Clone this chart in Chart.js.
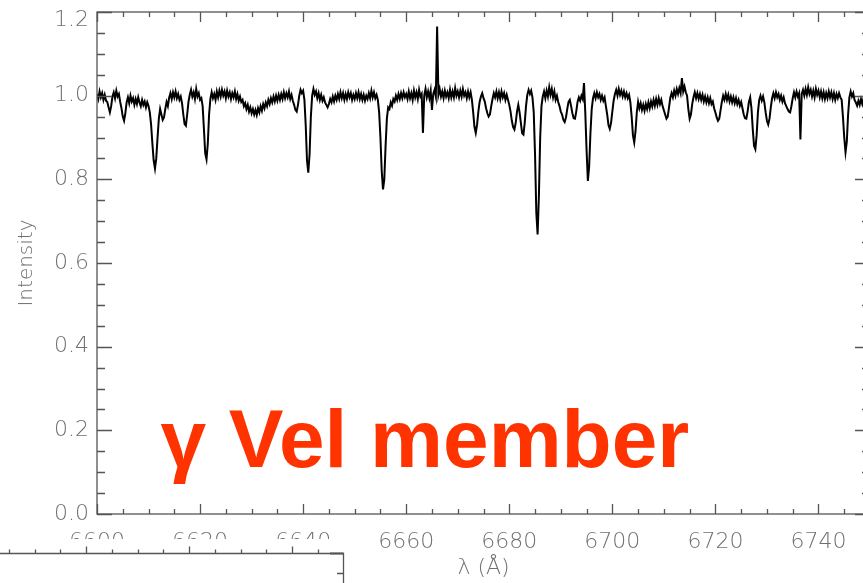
<!DOCTYPE html>
<html>
<head>
<meta charset="utf-8">
<script src="https://cdn.jsdelivr.net/npm/chart.js@4/dist/chart.umd.min.js"></script>
<style>
  html, body { margin: 0; padding: 0; background: #fff; }
  #wrap { position: relative; width: 863px; height: 583px; overflow: hidden; }
  #c { position: absolute; left: 0; top: 0; }
</style>
</head>
<body>
<div id="wrap"><canvas id="c" width="875" height="583"></canvas></div>
<script>
// Normalised spectrum sampled on a regular wavelength grid (Å)
const lambdaStart = 6600;
const lambdaStep = 0.25;
const intensity = [
  // 6600–6605
  1.004,0.992,1.010,0.996,1.006,0.990,1.002,0.988,0.985,0.972,0.960,0.975,0.998,1.008,0.994,1.012,0.998,1.004,0.985,0.970,
  // 6605–6610
  0.950,0.940,0.958,0.984,0.996,0.982,1.000,0.986,0.994,0.978,0.992,0.980,0.996,0.984,0.975,0.990,0.978,0.986,0.972,0.984,
  // 6610–6615
  0.975,0.960,0.930,0.885,0.845,0.826,0.850,0.900,0.945,0.968,0.955,0.942,0.948,0.968,0.985,0.975,0.995,1.006,0.992,1.008,
  // 6615–6620
  0.996,1.010,0.994,1.004,0.990,0.998,0.982,0.955,0.932,0.928,0.955,0.985,1.002,1.014,0.998,1.008,0.992,1.016,0.998,1.006,
  // 6620–6625
  0.990,0.994,0.975,0.920,0.862,0.848,0.885,0.955,0.992,1.008,0.994,1.004,0.990,1.010,0.996,1.012,0.998,1.014,1.000,1.010,
  // 6625–6630
  0.994,1.012,0.998,1.008,0.992,1.006,0.996,1.010,0.992,1.004,0.988,0.998,0.985,0.990,0.975,0.982,0.968,0.978,0.962,0.972,
  // 6630–6635
  0.958,0.968,0.955,0.966,0.954,0.970,0.960,0.975,0.964,0.980,0.970,0.984,0.975,0.990,0.980,0.994,0.984,0.998,0.986,1.000,
  // 6635–6640
  0.988,1.002,0.990,1.004,0.992,1.008,0.994,1.006,0.996,1.010,0.992,1.002,0.988,0.978,0.966,0.962,0.978,1.000,1.014,1.006,
  // 6640–6645
  1.012,0.990,0.930,0.845,0.816,0.860,0.950,1.000,1.016,1.002,1.010,0.994,1.006,0.990,1.002,0.988,0.996,0.984,0.978,0.972,
  // 6645–6650
  0.980,0.992,0.984,0.998,0.986,1.000,0.990,1.004,0.992,1.008,0.994,1.006,0.990,1.004,0.992,1.008,0.996,1.006,0.990,1.002,
  // 6650–6655
  0.992,1.006,0.994,1.008,0.992,1.004,0.990,1.002,0.988,1.000,0.992,1.006,0.994,1.012,0.996,1.008,0.994,1.002,0.990,0.960,
  // 6655–6660
  0.900,0.820,0.776,0.800,0.880,0.945,0.972,0.968,0.984,0.976,0.992,0.986,1.000,0.990,1.004,0.992,1.006,0.994,1.008,0.996,
  // 6660–6665
  1.004,0.992,1.010,0.994,1.006,0.990,1.012,0.996,1.008,0.992,1.014,0.998,1.004,0.911,1.000,1.016,0.996,1.010,0.994,1.012,
  // 6665–6670
  0.966,1.004,1.014,0.998,1.165,1.002,1.016,0.998,1.010,0.994,1.012,0.998,1.008,0.994,1.014,0.996,1.010,0.996,1.018,1.000,
  // 6670–6675
  1.010,0.996,1.012,0.998,1.016,1.000,1.008,0.994,1.010,0.996,1.008,0.990,0.960,0.925,0.911,0.930,0.962,0.985,0.998,1.006,
  // 6675–6680
  0.994,0.986,0.970,0.958,0.950,0.955,0.975,0.992,1.006,0.996,1.010,0.994,1.008,0.992,1.010,0.996,1.006,0.990,1.002,0.990,
  // 6680–6685
  0.978,0.962,0.940,0.925,0.919,0.935,0.962,0.978,0.960,0.935,0.910,0.907,0.935,0.975,1.002,1.014,1.004,1.012,0.996,0.960,
  // 6685–6690
  0.860,0.720,0.668,0.760,0.900,0.975,0.998,1.010,0.994,1.012,0.998,1.020,1.002,1.016,0.996,1.010,0.990,1.000,0.985,0.975,
  // 6690–6695
  0.962,0.955,0.942,0.937,0.948,0.968,0.985,0.990,0.975,0.958,0.946,0.945,0.962,0.985,0.996,0.988,1.000,0.992,1.030,0.960,
  // 6695–6700
  0.870,0.796,0.830,0.910,0.968,0.994,1.006,0.994,1.008,0.996,1.004,0.990,1.000,0.988,0.996,0.975,0.955,0.930,0.921,0.935,
  // 6700–6705
  0.962,0.988,1.004,1.014,1.000,1.016,1.002,1.012,0.998,1.010,0.996,1.006,0.994,1.002,0.984,0.950,0.905,0.888,0.915,0.960,
  // 6705–6710
  0.985,0.970,0.982,0.966,0.978,0.964,0.980,0.968,0.984,0.970,0.986,0.974,0.990,0.976,0.992,0.978,0.994,0.980,0.990,0.975,
  // 6710–6715
  0.965,0.955,0.945,0.950,0.972,0.995,1.006,0.996,1.012,1.000,1.016,1.004,1.018,1.006,1.042,1.010,1.022,1.008,1.000,0.968,
  // 6715–6720
  0.945,0.955,0.980,0.996,1.008,0.994,1.006,0.992,1.004,0.990,1.002,0.986,0.998,0.984,0.996,0.982,0.994,0.980,0.986,0.970,
  // 6720–6725
  0.960,0.948,0.940,0.945,0.965,0.985,1.000,0.990,1.004,0.990,1.002,0.986,0.998,0.984,0.996,0.982,0.994,0.980,0.990,0.976,
  // 6725–6730
  0.985,0.970,0.955,0.946,0.945,0.962,0.985,0.996,0.970,0.920,0.880,0.872,0.905,0.960,0.990,1.000,0.988,0.998,0.984,0.960,
  // 6730–6735
  0.940,0.931,0.945,0.972,0.994,1.006,0.994,1.008,0.996,1.004,0.990,1.000,0.986,0.996,0.982,0.975,0.968,0.962,0.960,0.975,
  // 6735–6740
  0.994,1.008,0.996,1.010,0.998,1.006,0.895,1.004,1.014,1.000,1.016,1.002,1.020,1.004,1.014,0.998,1.012,0.996,1.016,1.002,
  // 6740–6745
  1.012,0.996,1.010,0.994,1.008,0.992,1.006,0.994,1.010,0.996,1.008,0.992,1.006,0.990,1.004,0.994,1.006,0.996,0.990,0.950,
  // 6745–6750
  0.900,0.865,0.890,0.955,0.996,1.010,0.998,1.006,0.990,0.984,0.976,0.988,0.978,0.992,0.980,0.994,0.982,0.996,0.984,0.990,
  0.980
];

const xRange = [6600, 6750];
const yRange = [0, 1.2];
const xTickValues = [6600, 6620, 6640, 6660, 6680, 6700, 6720, 6740];
const yTickValues = [0.0, 0.2, 0.4, 0.6, 0.8, 1.0, 1.2];
const xMinorStep = 5;      // Å between minor ticks
const yMinorCount = 24;    // minor ticks every 0.05 over 0–1.2
const xTitle = 'λ (Å)';
const yTitle = 'Intensity';
const tagText = 'γ Vel member';
const tagAt = { x: 6612.3, y: 0.113 };

const axisColor = '#555';
const labelColor = '#707070';
const labelFamily = '"DejaVu Sans", "Liberation Sans", sans-serif';
const tagFamily = '"Liberation Sans", Arial, Helvetica, sans-serif';

const points = intensity.map((v, i) => ({ x: lambdaStart + i * lambdaStep, y: v }));

// Closed IDL-style frame with inward major/minor ticks on all four sides
const framePlugin = {
  id: 'frame',
  afterDatasetsDraw(chart) {
    const { ctx, chartArea: a, scales: { x, y } } = chart;
    ctx.save();
    ctx.strokeStyle = axisColor;
    ctx.lineWidth = 1.3;
    ctx.strokeRect(a.left, a.top, a.right - a.left, a.bottom - a.top);
    ctx.beginPath();
    const nx = Math.round((xRange[1] - xRange[0]) / xMinorStep);
    for (let i = 0; i <= nx; i++) {
      const v = xRange[0] + i * xMinorStep;
      const px = Math.round(x.getPixelForValue(v)) + 0.5;
      const len = (i % 4 === 0) ? 10 : 5;
      ctx.moveTo(px, a.bottom); ctx.lineTo(px, a.bottom - len);
      ctx.moveTo(px, a.top); ctx.lineTo(px, a.top + len);
    }
    for (let i = 0; i <= yMinorCount; i++) {
      const v = yRange[0] + i * (yRange[1] - yRange[0]) / yMinorCount;
      const py = Math.round(y.getPixelForValue(v)) + 0.5;
      const len = (i % 4 === 0) ? 15 : 8;
      ctx.moveTo(a.left, py); ctx.lineTo(a.left + len, py);
      ctx.moveTo(a.right, py); ctx.lineTo(a.right - len, py);
    }
    ctx.stroke();

    // group tag
    ctx.fillStyle = '#ff3300';
    ctx.font = 'bold 82px ' + tagFamily;
    ctx.textBaseline = 'alphabetic';
    ctx.textAlign = 'left';
    ctx.fillText(tagText, x.getPixelForValue(tagAt.x), y.getPixelForValue(tagAt.y));
    ctx.restore();
  },
  afterDraw(chart) {
    // frame corner of the neighbouring panel that sits below this one
    const { ctx } = chart;
    ctx.save();
    ctx.fillStyle = '#fff';
    ctx.fillRect(0, 539, 345, 44);
    ctx.strokeStyle = axisColor;
    ctx.lineWidth = 1.3;
    ctx.beginPath();
    ctx.moveTo(0, 553.5); ctx.lineTo(343.5, 553.5); ctx.lineTo(343.5, 583);
    for (let k = -3; k <= 9; k++) {
      const px = Math.round(86 + k * 25.75) + 0.5;
      const len = (k % 4 === 0) ? 7 : 4;
      ctx.moveTo(px, 553.5); ctx.lineTo(px, 553.5 - len);
    }
    ctx.moveTo(343.5, 573.5); ctx.lineTo(337, 573.5);
    ctx.stroke();
    ctx.lineWidth = 2;
    ctx.beginPath();
    ctx.moveTo(330, 553.5); ctx.lineTo(343.5, 553.5);
    ctx.stroke();
    ctx.restore();
  }
};

const zeroPad = s => { s.paddingTop = 0; s.paddingBottom = 0; s.paddingLeft = 0; s.paddingRight = 0; };
const isTopTick = v => Math.abs(v - yRange[1]) < 1e-9;

new Chart(document.getElementById('c'), {
  type: 'line',
  data: {
    datasets: [{
      data: points,
      borderColor: '#000',
      borderWidth: 2,
      pointRadius: 0,
      tension: 0,
      fill: false
    }]
  },
  options: {
    responsive: false,
    animation: false,
    events: [],
    layout: { padding: { top: 12, right: 5, left: 0, bottom: 0 } },
    plugins: { legend: { display: false }, tooltip: { enabled: false } },
    scales: {
      x: {
        type: 'linear',
        min: xRange[0],
        max: xRange[1],
        afterBuildTicks: s => { s.ticks = xTickValues.map(v => ({ value: v })); },
        afterFit: s => { s.height = 69; zeroPad(s); },
        grid: { display: false, drawTicks: false },
        border: { display: false },
        ticks: {
          autoSkip: false, maxRotation: 0, padding: 15,
          color: labelColor, font: { family: labelFamily, size: 22, weight: 200 },
          callback: v => String(v)
        },
        title: {
          display: true, text: xTitle, color: labelColor,
          font: { family: labelFamily, size: 22, weight: 200 },
          padding: { top: 0, bottom: 2 }
        }
      },
      y: {
        min: yRange[0],
        max: yRange[1],
        afterBuildTicks: s => { s.ticks = yTickValues.map(v => ({ value: v })); },
        afterFit: s => { s.width = 97; zeroPad(s); },
        grid: { display: false, drawTicks: false },
        border: { display: false },
        ticks: {
          padding: 8, color: labelColor,
          // the top label sits a little below the frame edge
          font: c => ({
            family: labelFamily, size: 22, weight: 200,
            lineHeight: (c.tick && isTopTick(c.tick.value)) ? '16px' : 1.2
          }),
          callback: v => isTopTick(v) ? ['', Number(v).toFixed(1)] : Number(v).toFixed(1)
        },
        title: {
          display: true, text: yTitle, color: labelColor,
          font: { family: labelFamily, size: 20, weight: 200 },
          padding: { top: 15, bottom: 0 }
        }
      }
    }
  },
  plugins: [framePlugin]
});
</script>
</body>
</html>
